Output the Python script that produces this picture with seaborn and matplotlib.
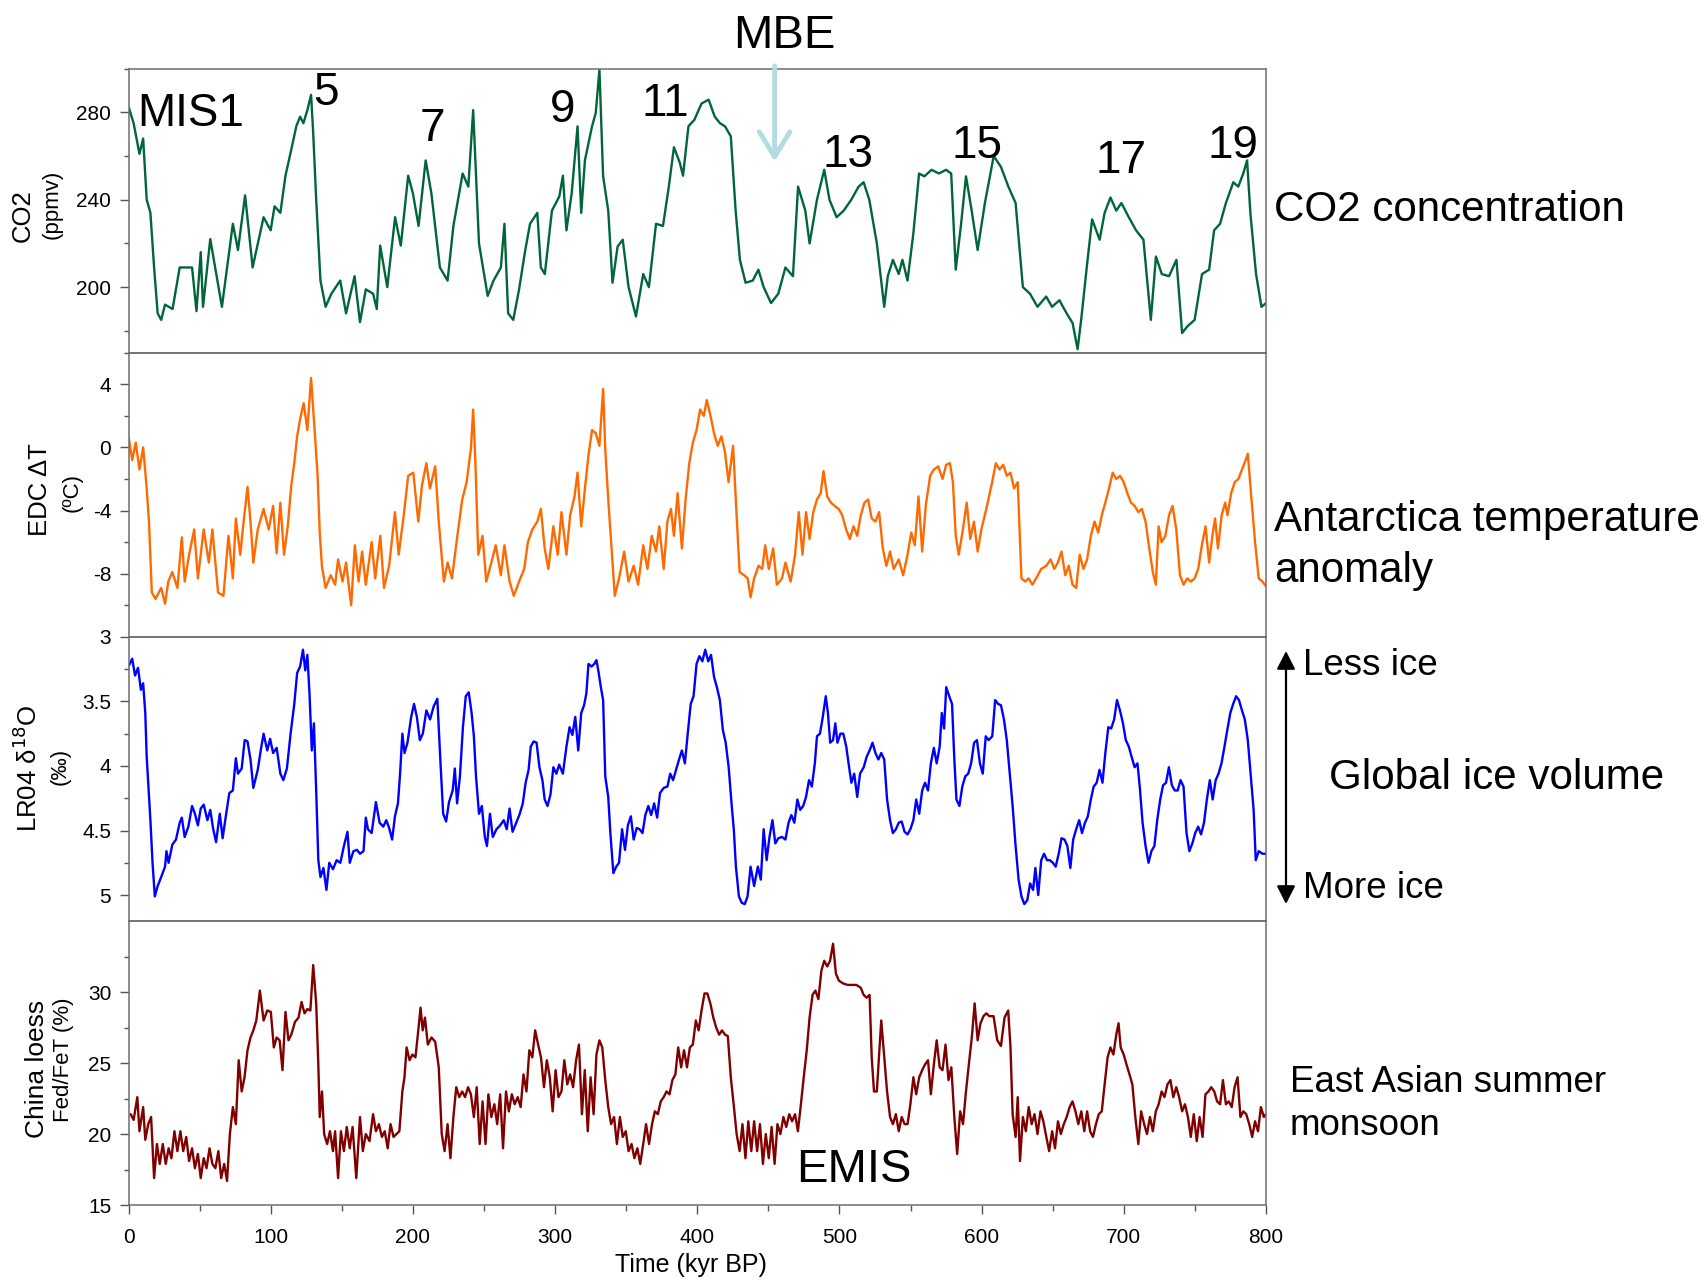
import numpy as np
import pandas as pd
import matplotlib
matplotlib.use("Agg")
import matplotlib.pyplot as plt
import seaborn as sns
from matplotlib.ticker import FixedLocator, FuncFormatter
from matplotlib.patches import FancyArrowPatch

sns.set_theme(style="white")
plt.rcParams['font.family'] = ['Liberation Sans', 'DejaVu Sans']
plt.rcParams['text.color'] = 'black'
plt.rcParams['xtick.color'] = 'black'
plt.rcParams['ytick.color'] = 'black'
plt.rcParams['axes.labelcolor'] = 'black'

# ---------------- data (kyr BP) ----------------
co2_age = [0, 3.6, 7.7, 10.3, 12.8, 15.4, 18, 20.5, 23, 25.7, 31, 36, 44.7, 47.8, 50.8, 52.4, 57.5, 65.7, 73.4, 77,
           82, 87.3, 95, 100, 102.7, 106.8, 110.4, 114.5, 118, 120.7, 123, 125.8, 128.4, 129.9, 132, 135, 138.6, 142.7,
           148.9, 153, 159, 162.8, 166.9, 172, 174.6, 177, 182, 187.5, 191.5, 196.7, 200, 204, 209, 213, 219, 224.4,
           228.5, 232.6, 235, 239, 242.4, 246.5, 252.6, 256.7, 261.9, 264.4, 267, 270.6, 274.7, 278.8, 282.4, 287.5,
           290, 292.8, 297.8, 303, 305.5, 308, 311.7, 315.8, 318.4, 321, 326, 328.6, 331.2, 333.8, 337.4, 340.4, 344,
           347.6, 351.7, 356.9, 362, 366, 371, 375.9, 380, 383.6, 387.7, 390, 393.8, 398, 403, 408, 412.3, 416, 419.5,
           423.6, 427, 430, 434, 439, 443, 446.7, 451.9, 457, 462, 467.3, 470.9, 476, 479, 484.2, 489.3, 493, 498, 503,
           508.3, 513.5, 517, 521, 526.3, 531.5, 534, 537.6, 541.7, 544.3, 547.9, 552, 556, 559.7, 564.8, 570, 575,
           578.6, 581.8, 585.4, 589, 593, 597.2, 602.3, 608.5, 613.6, 618.8, 623.9, 629, 634, 639.3, 645.4, 649.5,
           654.7, 659.8, 664, 667.5, 670, 674, 677.7, 683, 686.5, 690.6, 694.7, 698.3, 703.5, 708.6, 713.8, 719, 722.6,
           726.7, 731.8, 737, 741, 744.6, 749.8, 755, 760, 763.5, 767.7, 771.8, 777, 780.5, 784, 786.7, 789, 793,
           796.8, 800]
co2_ppmv = [282.7, 275, 261, 268, 240, 234, 209, 188, 185, 192, 190, 209, 209, 189, 216, 191, 222, 191, 229, 217,
            242, 209, 232, 226, 237, 234, 251, 263, 273.6, 278, 275, 281, 288, 270.5, 240, 203, 191, 197,
            203, 188, 205, 184, 199, 197, 190, 219, 200, 232, 219, 251, 243, 228, 258, 243, 209, 203,
            228, 243, 252, 246, 281, 220, 196, 203, 209, 229, 188, 185, 199, 216, 229, 234,
            209, 206, 235, 241.5, 251, 226, 243, 273.6, 234, 258, 273.6, 279.7, 299.5, 250.7, 235, 202, 218.6,
            221.7, 200, 186.6, 206, 200, 229, 228, 246, 264, 257, 251, 273.6, 276.6, 284, 285.8, 278, 275, 273.6,
            269, 235, 212.5, 202, 203, 208, 200, 192.7, 197, 209, 205, 246, 235, 220, 240, 253.7, 240, 232, 235,
            240, 246, 248, 240, 220, 191, 205, 212.5, 206, 212.5, 203, 224.7, 252, 250.7, 253.7, 252, 253.7,
            252, 208, 228, 250.7, 235, 217, 238.5, 260, 255, 246, 238.5, 200, 197, 191, 195.7, 191,
            194, 188, 183.5, 171.6, 185, 209.5, 231, 221.7, 234, 241, 235, 238.5, 232, 226, 221.7, 185, 214,
            206, 205, 212.5, 179, 182, 185, 206, 208, 226, 229, 238.5, 248, 246, 252, 258, 234, 206,
            191, 192.7]

edc_age = [0, 2.6, 5.1, 7.7, 10.3, 12.8, 14.4, 16.4, 19, 23, 25.7, 28, 30.8, 34.4, 37.5, 39.5, 42.6, 46.2, 48.8,
           52.9, 56.5, 59, 63, 66.8, 70.3, 73.4, 75.5, 78.6, 80.6, 83.7, 85.8, 87.8, 90.9, 95, 98.6, 101.7, 104.2,
           106.8, 109.4, 112, 114.5, 116.6, 118.6, 120.7, 123.2, 125.8, 128.4, 130.9, 133, 134.5, 136, 138.6, 142.2,
           145.3, 147.4, 150.5, 153, 156.6, 159.2, 161.8, 164.3, 166.9, 171, 173.5, 177.1, 179.7, 183.3, 187.4, 190,
           193.6, 196.7, 200.3, 203.8, 206.4, 209.5, 212, 215.7, 218.2, 221.8, 224.4, 227.5, 231, 234.7, 237.8,
           240.8, 242.4, 243.9, 246, 249, 251.6, 255.2, 258.3, 261.9, 264.4, 268, 271, 274.7, 278.3, 280.9, 284,
           287.5, 290, 292.7, 295.3, 298.8, 301.9, 304.5, 308, 310.6, 313.7, 315.8, 318.4, 321, 323.5, 326, 328.6,
           331.2, 333.8, 335.3, 337.4, 340, 342, 345, 348.6, 351.7, 355.3, 358.4, 362, 365, 368, 371, 373.3, 376.4,
           379, 381.5, 383.6, 386.2, 389.2, 391.8, 394.4, 396.9, 399.5, 402, 404.6, 406.7, 409.3, 411.8, 414.4, 417,
           419.5, 422, 425.2, 427.8, 429.8, 433, 435.5, 437.5, 440, 443.1, 445.7, 447.8, 450.3, 453.4, 456, 459.6,
           462, 465.7, 468.8, 471.4, 474, 476.5, 479, 481.6, 484.2, 486.8, 488.8, 491.4, 494, 496.5, 499.5, 502,
           504.7, 507.3, 509.9, 512.5, 515, 517.6, 520.2, 522.7, 525.3, 527.9, 530.5, 533, 535.6, 538.2, 541.7,
           544.8, 547.9, 550.5, 553, 555.6, 558.2, 560.7, 563.8, 566.4, 569.5, 572.5, 575.1, 577.7, 579.8, 581.8,
           583.9, 586.5, 589.5, 592, 594.6, 597.2, 599.8, 603.3, 607.4, 610, 612.6, 615.2, 617.7, 620.3, 622.8,
           625.4, 628, 630.6, 633.1, 635.7, 638.3, 641.9, 645.5, 648.5, 651.1, 653.6, 656.2, 658.8, 661.3, 663.9,
           666.5, 669, 671.6, 674.2, 676.8, 679.4, 682, 684.5, 687, 689.6, 692.2, 694.7, 697.3, 699.9, 702.5, 705,
           707.6, 710.2, 712.7, 715.3, 717.9, 720.4, 722.5, 724.5, 726.6, 729.2, 731.8, 734.3, 736.9, 739.5, 742,
           744.6, 747.2, 749.8, 752.3, 754.9, 757.5, 760, 762.6, 764.2, 766.2, 768.8, 771.3, 772.9, 775.5, 778,
           780.6, 783.1, 785.7, 787.2, 789.8, 792.3, 794.9, 797.5, 800]
edc_temp = [0.7, -0.8, 0.3, -1.4, 0, -2.6, -4.7, -9.2, -9.6, -8.9, -9.9, -8.5, -7.9, -8.9, -5.7, -8.5, -6.8, -5.2, -8.3,
            -5.2, -7.3, -5.2, -9.2, -9.4, -5.6, -8.3, -4.5, -6.8, -5, -2.5, -4.7, -7.3, -5.2, -3.9, -5.2, -3.7, -6.7,
            -3.5, -6.8, -5, -2.4, -1, 0.7, 1.8, 2.8, 1.1, 4.4, 1.1, -1.8, -5.4, -7.5, -8.9, -8.1,
            -8.7, -7.1, -8.5, -7.3, -10, -6.2, -8.5, -6.6, -8.7, -6, -8.3, -5.6, -8.9, -7.5, -4.1, -6.8,
            -4.3, -1.8, -1.6, -4.7, -2.4, -1, -2.6, -1.2, -4.7, -8.5, -7.3, -8.3, -5.8, -3.3, -2.2,
            -0.1, 2.4, -0.8, -6.8, -5.6, -8.5, -7.3, -6.2, -8.1, -6.2, -8.5, -9.4, -8.5, -7.7, -6, -5.2,
            -4.7, -3.9, -6.4, -7.7, -5, -6.8, -4.1, -6.8, -4.3, -3.1, -1.6, -5, -2.6, -0.5, 1.1, 0.9,
            0.1, 3.7, -0.1, -3.3, -6.8, -9.4, -8.3, -6.6, -8.5, -7.5, -8.7, -6.2, -7.7, -5.6, -6.6, -5, -7.7,
            -4.7, -3.9, -5.6, -2.9, -6.4, -3.3, -1, 0.3, 1.1, 2.4, 2, 3, 2, 0.9, 0.1, 0.7,
            -0.3, -2.2, 0.1, -4.5, -7.9, -8.1, -8.3, -9.5, -8.3, -7.5, -7.7, -6.2, -7.7, -6.4, -8.7, -8.3,
            -7.3, -8.5, -6.8, -4.1, -6.8, -4.1, -5.8, -4.1, -3.3, -2.9, -1.5, -3.1, -3.5, -3.7, -3.9, -4.3,
            -5.2, -5.8, -5, -5.6, -4.3, -3.5, -3.3, -4.5, -4.7, -4.1, -6.4, -7.5, -6.6, -7.7, -7.1,
            -8.1, -6.8, -5.4, -6.2, -3.1, -6.6, -3.7, -1.8, -1.4, -1.2, -2, -1.1, -1, -2.2, -5.6,
            -6.8, -5.4, -3.5, -5.8, -4.7, -6.6, -5.2, -3.9, -2.2, -1, -1.4, -1.1, -1.8, -1.6, -2.6,
            -2.2, -8.3, -8.5, -8.3, -8.7, -8.3, -7.7, -7.5, -7.1, -7.7, -7.3, -6.6, -8.1, -7.5, -8.7,
            -8.9, -6.8, -7.7, -7.1, -5.6, -4.7, -5.4, -4.3, -3.5, -2.6, -1.6, -2, -1.8, -2.2, -2.9, -3.5,
            -3.7, -4.1, -3.9, -4.7, -6.4, -7.9, -8.7, -5, -6, -5.6, -4.3, -3.7, -5.2, -8.1, -8.7,
            -8.3, -8.5, -8.3, -7.7, -6.2, -5, -7.3, -5.4, -4.5, -6.4, -4.3, -3.5, -4.3, -2.9, -2.2,
            -2, -1.4, -0.8, -0.4, -3.3, -6, -8.3, -8.5, -8.8]

lr04_age = [0, 2.6, 4.6, 6.7, 8.7, 10.3, 11.8, 12.8, 15.4, 16.9, 18.5, 20.5, 23, 25.7, 26.7, 28.2, 30.8, 33.4, 36,
            37.5, 39.5, 42.1, 44.7, 46.7, 48.8, 50.8, 52.9, 55.5, 57.5, 59.6, 61.6, 64.2, 66.2, 68.3, 70.9, 73.4,
            75.5, 77, 79.6, 81.7, 83.7, 85.8, 87.8, 90.9, 93, 95, 97.6, 99.6, 101.7, 104.2, 106.8, 108.9, 111.4, 114,
            116.6, 118.6, 120.7, 122.7, 124.3, 125.8, 127.3, 128.9, 130.4, 132, 133.5, 135, 137.1, 139.2, 141.2,
            143.8, 146.4, 149, 151.5, 154, 155.6, 158.2, 160.7, 162.8, 165.3, 166.9, 168.4, 171, 174, 176.6, 179.2,
            181.3, 183.3, 185.4, 187.4, 189.5, 191, 192.6, 194.1, 196.2, 198.8, 200.8, 202.8, 204.9, 207, 209.5,
            212.1, 214.6, 217.2, 219.3, 221.3, 223.4, 225.4, 228, 229.5, 231.1, 233.1, 235.2, 237.2, 239.3, 241.3,
            242.9, 244.4, 246.5, 248.5, 250.6, 252.1, 254.2, 256.2, 258.8, 261.4, 263.9, 266, 268, 270.1, 272.7,
            275.2, 277.3, 279.3, 281.4, 282.9, 285, 287, 289, 291.1, 292.7, 294.7, 296.8, 298.8, 300.9, 302.9,
            305.5, 308, 310.2, 312.2, 314.2, 316.3, 318.4, 320.4, 322, 323.5, 325.6, 327.6, 329.1, 330.7, 332.2,
            333.8, 335.3, 337.4, 338.9, 341, 343, 345, 347.1, 349.2, 351.2, 353.3, 355.3, 357.4, 359.4, 361.5,
            363.5, 365.6, 367.6, 369.7, 371.8, 373.8, 376.4, 379, 381, 383, 385.1, 387.2, 389.2, 391.3, 393.3,
            395.4, 397.4, 399.5, 401.5, 403.6, 405.6, 407.7, 409.7, 411.8, 413.8, 415.9, 418, 420, 422.1, 424.1,
            425.7, 427.2, 429.3, 431.3, 433.4, 435.4, 437.5, 440, 442.6, 444.7, 446.7, 448.8, 450.8, 452.9, 454.9,
            457, 459.6, 462, 464.2, 466.2, 468.3, 470.4, 472.4, 474.5, 476.5, 478.6, 480.6, 482.7, 484.2, 486.3,
            488.3, 490.4, 491.9, 493.5, 495.5, 497.1, 498.6, 500.7, 502.7, 504.8, 506.8, 508.4, 510.4, 512.5, 514.5,
            517.1, 519.1, 521.2, 523.3, 525.3, 527.4, 529.4, 531.5, 533.5, 535.6, 537.6, 539.7, 541.7, 543.8, 545.8,
            547.9, 549.9, 552, 554, 556.1, 558.2, 560.2, 562.3, 564.3, 566.4, 568.4, 570.5, 572, 573.6, 575.1,
            577.2, 579.2, 580.8, 582.3, 584.4, 586.4, 588.5, 590.6, 592.6, 594.7, 596.7, 598.8, 600.8, 602.9, 604.9,
            607.5, 609.5, 611.6, 613.6, 615.7, 617.7, 619.8, 621.8, 623.9, 626, 628, 630, 632.1, 634.1, 636.2,
            637.8, 639.8, 641.9, 643.9, 646, 648, 650.1, 652.1, 654.2, 656.2, 658.3, 660.3, 662.4, 664.4, 666.5,
            668.6, 670.6, 672.7, 674.7, 676.8, 678.8, 680.9, 682.9, 685, 687, 689.1, 691.1, 693.2, 695.2, 697.3,
            699.4, 701.4, 703.5, 705.5, 707.6, 709.6, 711.2, 713.2, 715.3, 717.4, 719.4, 721.5, 723.5, 725.6, 727.6,
            729.7, 731.7, 733.8, 735.8, 737.9, 739.9, 742, 744.1, 746.1, 748.2, 750.2, 752.3, 754.3, 756.4, 758.4,
            760.5, 762.5, 764.6, 766.6, 768.7, 770.8, 772.8, 774.9, 776.9, 779, 781, 783.1, 785.1, 787.2, 789.2,
            791.3, 792.8, 794.9, 797.5, 800]
lr04_d18o = [3.23, 3.17, 3.3, 3.24, 3.41, 3.36, 3.59, 3.93, 4.42, 4.75, 5.01, 4.93, 4.86, 4.78, 4.66, 4.75, 4.61, 4.57,
             4.44, 4.4, 4.55, 4.47, 4.31, 4.37, 4.46, 4.33, 4.3, 4.42, 4.34, 4.49, 4.59, 4.37, 4.56, 4.4, 4.21, 4.19,
             3.94, 4.06, 4.02, 3.8, 3.81, 3.95, 4.17, 4.03, 3.88, 3.75, 3.88, 3.79, 3.9, 3.86, 4.06, 4.11, 4.02, 3.75,
             3.52, 3.28, 3.23, 3.1, 3.26, 3.14, 3.44, 3.88, 3.67, 4.19, 4.73, 4.86, 4.79, 4.96, 4.75,
             4.8, 4.73, 4.75, 4.62, 4.51, 4.75, 4.66, 4.65, 4.68, 4.66, 4.4, 4.49, 4.52, 4.28, 4.44, 4.47,
             4.42, 4.48, 4.57, 4.39, 4.29, 4.06, 3.75, 3.9, 3.82, 3.62, 3.52, 3.62, 3.8, 3.75, 3.57,
             3.64, 3.54, 3.48, 3.95, 4.37, 4.43, 4.28, 4.19, 4.02, 4.29, 4.08, 3.7, 3.46, 3.43, 3.59,
             3.77, 4.08, 4.37, 4.31, 4.55, 4.62, 4.37, 4.55, 4.49, 4.46, 4.42, 4.49, 4.33, 4.51, 4.44,
             4.37, 4.29, 4.13, 4.03, 3.85, 3.81, 3.82, 4.01, 4.11, 4.26, 4.31, 4.22, 4.01, 4.06, 3.99,
             4.06, 3.85, 3.7, 3.76, 3.62, 3.88, 3.59, 3.53, 3.44, 3.21, 3.23, 3.21, 3.18, 3.28, 3.39,
             3.49, 4.08, 4.24, 4.52, 4.83, 4.78, 4.75, 4.49, 4.65, 4.46, 4.39, 4.57, 4.48, 4.49, 4.52,
             4.38, 4.31, 4.38, 4.29, 4.4, 4.21, 4.17, 4.16, 4.06, 4.11, 4.03, 3.95, 3.88, 3.98, 3.75,
             3.52, 3.46, 3.21, 3.15, 3.19, 3.1, 3.19, 3.14, 3.31, 3.39, 3.49, 3.72, 3.82, 4.01, 4.29,
             4.49, 4.78, 5.01, 5.06, 5.07, 5.01, 4.78, 4.93, 4.78, 4.88, 4.49, 4.73, 4.55, 4.42, 4.6,
             4.56, 4.55, 4.57, 4.44, 4.38, 4.44, 4.26, 4.34, 4.31, 4.24, 4.11, 4.16, 3.98, 3.77, 3.75,
             3.62, 3.46, 3.59, 3.82, 3.8, 3.67, 3.82, 3.75, 3.75, 3.85, 4.01, 4.13, 4.06, 4.24, 4.06,
             4.01, 3.93, 3.88, 3.82, 3.9, 3.95, 3.9, 3.95, 4.26, 4.42, 4.52, 4.49, 4.44, 4.43, 4.51,
             4.53, 4.49, 4.42, 4.26, 4.37, 4.19, 4.13, 4.19, 3.98, 3.86, 3.98, 3.85, 3.59, 3.71, 3.39,
             3.46, 3.52, 3.95, 4.26, 4.31, 4.16, 4.08, 4.06, 3.98, 3.82, 3.8, 3.98, 4.06, 3.77, 3.8,
             3.77, 3.49, 3.52, 3.53, 3.64, 3.8, 4.06, 4.31, 4.62, 4.88, 5.01, 5.07, 5.04, 4.91, 4.96,
             4.79, 5.0, 4.73, 4.68, 4.73, 4.73, 4.75, 4.78, 4.68, 4.56, 4.57, 4.62, 4.79, 4.57, 4.49,
             4.42, 4.52, 4.44, 4.39, 4.26, 4.16, 4.13, 4.03, 4.13, 3.9, 3.7, 3.71, 3.64, 3.49, 3.57,
             3.67, 3.8, 3.85, 3.93, 4.01, 3.98, 4.16, 4.44, 4.62, 4.75, 4.66, 4.62, 4.42, 4.26, 4.15,
             4.13, 4.01, 4.15, 4.19, 4.19, 4.11, 4.16, 4.52, 4.66, 4.6, 4.52, 4.47, 4.53, 4.44, 4.26,
             4.11, 4.26, 4.11, 4.06, 3.98, 3.85, 3.72, 3.59, 3.52, 3.46, 3.49, 3.57, 3.64, 3.8, 4.06,
             4.34, 4.73, 4.66, 4.68, 4.68]

loess_age = [1.5, 3.6, 6.2, 7.7, 10.3, 11.8, 13.9, 15.9, 18, 20, 22, 24.1, 26.2, 28.2, 30.2, 32.3, 34.4, 36.5, 38.5,
             40.6, 42.6, 44.7, 46.7, 48.8, 50.8, 52.9, 54.9, 57, 59, 61.1, 63.2, 65.2, 67.3, 69.3, 71.3, 73.4, 75.5,
             77.5, 79.6, 81.6, 83.7, 85.8, 87.8, 89.9, 92.4, 95, 97.6, 100.1, 102.2, 104.2, 106.3, 108.3, 110.4,
             112.5, 114.5, 117.1, 119.6, 121.7, 123.8, 125.8, 127.9, 129.9, 132, 133.5, 134.5, 136.1, 137.6, 139.7,
             141.7, 143.8, 145.3, 147.4, 149.4, 151.5, 153.5, 155.6, 157.6, 160.2, 162.8, 164.8, 166.9, 169.5, 172,
             174, 176.1, 178.2, 180.2, 182.3, 184.3, 186.4, 188.4, 190.5, 192.6, 194.1, 195.6, 197.7, 199.7, 201.8,
             203.8, 205.4, 206.9, 208.5, 210.5, 213.1, 215.7, 218.2, 220.3, 222.3, 224.4, 226.4, 228.5, 230.5,
             232.6, 234.7, 236.7, 238.8, 240.8, 242.9, 244.9, 247, 249, 251.1, 253.1, 255.2, 257.3, 259.3, 261.4,
             263.4, 265.5, 267.5, 269.6, 271.6, 273.7, 275.8, 277.8, 279.9, 281.9, 284, 286, 288.1, 290.1, 292.2,
             294.2, 296.3, 298.3, 300.4, 302.4, 304.5, 306.5, 308.6, 310.6, 312.7, 314.8, 316.8, 318.9, 320.9, 323,
             325, 327.1, 329.1, 331.2, 333.2, 335.3, 337.4, 339.4, 341.5, 343.5, 345.6, 347.6, 349.7, 351.7, 353.8,
             355.8, 357.9, 359.9, 362, 364, 366.1, 368.2, 370.2, 372.3, 374.3, 376.4, 378.4, 380.5, 382.5, 384.6,
             386.6, 388.7, 390.7, 392.8, 394.8, 396.9, 399, 401, 403, 405.1, 407.1, 409.2, 411.3, 413.3, 415.4,
             417.4, 419.5, 421.5, 423.6, 425.6, 427.7, 429.8, 431.8, 433.9, 435.9, 438, 440, 442.1, 444.1, 446.2,
             448.2, 450.3, 452.3, 454.4, 456.4, 458.5, 460.6, 462.6, 464.7, 466.7, 468.8, 470.8, 472.9, 474.9, 477,
             479, 481.1, 483.1, 485.2, 487.3, 489.3, 491.4, 493.4, 495.5, 497.5, 499.6, 502.7, 505.8, 508.9, 511.9,
             515, 517, 519.1, 521.2, 522.7, 524.3, 526.3, 527.9, 529.4, 531.5, 533.5, 535.6, 537.6, 539.7, 541.7,
             543.8, 545.8, 547.9, 549.9, 552, 554, 556.1, 558.2, 560.2, 562.3, 564.3, 566.4, 568.4, 570.5, 572.5,
             574.6, 576.7, 578.7, 580.8, 582.8, 584.9, 586.9, 589, 591, 593.1, 595.1, 597.2, 599.2, 601.3, 603.3,
             605.4, 608.4, 611, 613.6, 616.1, 618.7, 620.3, 621.8, 623.9, 625.4, 627, 629, 631.1, 633.1, 635.2,
             637.2, 639.3, 641.4, 643.4, 645.5, 647.5, 649.6, 651.6, 653.7, 655.7, 657.8, 659.8, 661.9, 663.9, 666,
             668, 670.1, 672.2, 674.2, 676.3, 678.3, 680.4, 682.4, 684.5, 686.5, 688.6, 690.6, 692.7, 694.7, 696.3,
             697.8, 699.9, 701.9, 704, 706, 708.1, 710.2, 712.2, 714.3, 716.3, 718.4, 720.4, 722.5, 724.5, 726.6,
             728.6, 730.7, 732.8, 734.8, 736.9, 738.9, 741, 743, 745.1, 747.1, 749.2, 751.3, 753.3, 755.4, 757.4,
             759.5, 761.5, 763.6, 765.6, 767.7, 769.7, 771.8, 773.8, 775.9, 777.9, 780, 782, 784.1, 786.1, 788.2,
             790.3, 792.3, 794.4, 796.4, 798.5, 800]
loess_fed = [21.4, 21, 22.6, 20.2, 21.9, 19.6, 20.7, 21.2, 16.9, 19.3, 17.9, 19.3, 17.9, 19, 18.3, 20.2, 18.8, 20.2, 18.8,
             19.8, 18.1, 19, 17.6, 18.6, 16.9, 18.3, 17.6, 19, 17.9, 17.6, 18.8, 16.9, 17.9, 16.7, 20, 21.9, 20.7,
             25.2, 23, 24, 25.9, 26.8, 27.3, 28, 30.1, 28, 28.7, 28.6, 26.1, 26.8, 26.6, 24.5, 28.6,
             26.6, 27, 27.9, 28.2, 29.3, 28.5, 28.8, 28.7, 31.9, 29.2, 24.9, 21.2, 23, 20, 19.3,
             20.2, 18.8, 20.2, 16.9, 20.2, 18.8, 20.5, 19, 20.5, 16.9, 21.2, 18.8, 20, 19.5, 21.4,
             20.2, 20.7, 19.8, 20.2, 19, 20.7, 19.8, 20, 20.2, 23, 24, 26.1, 25.2, 25.6, 25.4,
             27.3, 28.9, 27.3, 28.2, 26.3, 26.8, 26.5, 24.7, 20, 18.8, 20.7, 18.3, 21.2, 23.3,
             22.6, 23, 22.6, 23.3, 22.8, 21.2, 23.3, 19.3, 22.3, 19.3, 22.8, 21.2, 22.1, 20.7, 22.8,
             19, 23, 21.6, 22.8, 22.1, 22.6, 21.9, 24.2, 23, 25.9, 25.4, 27.3, 26.3, 25.4, 23.3,
             25.2, 24, 21.6, 24.5, 22.6, 23, 25.2, 23.5, 24.2, 23.3, 25.2, 26.3, 21.4, 24.5, 20.2,
             24, 21.4, 25.6, 26.6, 26.1, 23.8, 21.9, 20.7, 21.2, 19.3, 21.2, 19.8, 20.2, 18.8, 19.3,
             18.3, 19, 17.9, 19.3, 20.7, 19.3, 20.7, 21.6, 21.4, 22.3, 22.6, 23, 22.8, 23.8, 24.2,
             26.1, 24.7, 25.9, 24.7, 26.1, 26.3, 28, 27.3, 28.7, 29.9, 29.9, 29.2, 28.2, 27.5, 27,
             27.3, 27, 26.9, 24, 22.1, 20, 18.8, 20.7, 18.3, 20.9, 18.8, 20.9, 18.8, 20.7, 17.9,
             20, 18.3, 20.5, 17.9, 20.7, 20, 21.2, 20.5, 21.4, 20.9, 21.4, 20.2, 22.1, 24, 25.9,
             28.2, 29.8, 30.1, 29.5, 31.5, 32.2, 31.8, 32.2, 33.4, 31.3, 30.8, 30.6, 30.5, 30.5, 30.5,
             30.3, 29.8, 29.6, 29.8, 25.4, 23, 23, 25.6, 28, 25.4, 23, 21.2, 20.7, 21.4, 20.2,
             21.2, 20.7, 20.7, 22.1, 24, 22.8, 24, 24.5, 24.9, 25.2, 22.8, 24.9, 26.6, 24.7, 24.5,
             26.3, 23.8, 24.7, 21.2, 18.6, 21.6, 20.7, 23, 24.9, 26.8, 29.2, 26.6, 27.8, 28.3, 28.5,
             28.3, 28.3, 26.6, 26.2, 28.2, 28.7, 26.1, 21.4, 19.8, 22.6, 18.1, 21.2, 20.2, 21.9, 20.7,
             21.4, 20, 21.6, 20.9, 19.8, 18.8, 20.2, 19, 20.9, 20, 20.7, 21.2, 21.9, 22.3, 21.6,
             20.7, 21.6, 20.2, 21.6, 20.2, 19.8, 20.7, 21.4, 21.6, 23.5, 25.4, 26.1, 25.6, 27, 27.8,
             26.1, 25.6, 24.9, 24.2, 23.5, 21.2, 19.3, 21.6, 20.7, 20, 21.2, 20.2, 21.6, 22.1, 23,
             22.6, 23.5, 23.8, 22.6, 23.3, 22.6, 21.6, 22.1, 21.2, 19.8, 21.4, 19.5, 21.2, 19.8, 22.8,
             23, 23.3, 23, 22.3, 22.1, 23.8, 22.1, 22.3, 21.9, 23.3, 24, 21.2, 21.6, 21.4, 20.7,
             19.8, 20.9, 20.2, 21.9, 21.2, 21.4]

mis_labels = ["MIS1", "5", "7", "9", "11", "13", "15", "17", "19"]
mis_age = [43.6, 138.6, 214, 305.5, 377.4, 506.3, 596.7, 697.8, 776.9]
mis_base = [273.6, 283.5, 266.7, 275.4, 278.2, 255.0, 259.1, 252.2, 259.1]

# ---------------- figure ----------------
W, H = 1707, 1280
fig = plt.figure(figsize=(W / 100, H / 100), dpi=100)

left = 128.5 / W
width = (1266 - 128.5) / W
tops = [68.6, 352.7, 636.8, 921.0]
ph = 284.1
axes = []
for t in tops:
    ax = fig.add_axes([left, 1 - (t + ph) / H, width, ph / H])
    axes.append(ax)

spine_c = "#6e6e6e"
series = [
    (co2_age, co2_ppmv, "#00663a", (170, 300), [200, 240, 280], [180, 220, 260, 300]),
    (edc_age, edc_temp, "#ff6a00", (-12, 6), [-8, -4, 0, 4], [-10, -6, -2, 2, 6]),
    (lr04_age, lr04_d18o, "#0000ff", (5.2, 3.0), [3, 3.5, 4, 4.5, 5], [3.25, 3.75, 4.25, 4.75]),
    (loess_age, loess_fed, "#800000", (15, 35), [15, 20, 25, 30], [17.5, 22.5, 27.5, 32.5]),
]

for ax, (xa, ya, col, ylim, maj, mino) in zip(axes, series):
    df = pd.DataFrame({"age": xa, "val": ya})
    sns.lineplot(data=df, x="age", y="val", ax=ax, color=col, linewidth=1.7,
                 estimator=None, sort=False)
    ax.set_xlim(0, 800)
    ax.set_ylim(*ylim)
    ax.set_xlabel("")
    ax.set_ylabel("")
    ax.yaxis.set_major_locator(FixedLocator(maj))
    ax.yaxis.set_minor_locator(FixedLocator(mino))
    ax.yaxis.set_major_formatter(FuncFormatter(lambda v, p: f"{v:g}"))
    ax.tick_params(axis="y", which="major", direction="out", length=6.5, width=1,
                   color="#555555", labelcolor="black", labelsize=15, pad=6, left=True)
    ax.tick_params(axis="y", which="minor", direction="out", length=3.8, width=1,
                   color="#555555", left=True)
    for s in ax.spines.values():
        s.set_color(spine_c)
        s.set_linewidth(1.1)
    ax.set_facecolor("none")

for ax in axes[:3]:
    ax.tick_params(axis="x", which="both", bottom=False, labelbottom=False)

axb = axes[3]
axb.xaxis.set_major_locator(FixedLocator(list(range(0, 801, 100))))
axb.xaxis.set_minor_locator(FixedLocator(list(range(50, 800, 100))))
axb.tick_params(axis="x", which="major", direction="out", length=6.5, width=1,
                color="#555555", labelcolor="black", labelsize=15, pad=10, bottom=True)
axb.tick_params(axis="x", which="minor", direction="out", length=4, width=1,
                color="#555555", bottom=True)

# ---------------- annotations ----------------
ax0 = axes[0]
for lab, a, b in zip(mis_labels, mis_age, mis_base):
    ax0.text(a, b, lab, fontsize=33, ha="center", va="baseline", color="black")

ax0.annotate("", xy=(454.4, 257.5), xytext=(454.4, 301.2),
             arrowprops=dict(arrowstyle="->,head_length=0.9,head_width=0.55",
                             color="#b2dce0", lw=3.5, mutation_scale=20,
                             shrinkA=0, shrinkB=0),
             annotation_clip=False)
fig.text(784 / W, 1 - 48 / H, "MBE", fontsize=34, ha="center", va="baseline")

axes[3].text(510.4, 16.6, "EMIS", fontsize=34, ha="center", va="baseline")

# right-side texts
fig.text(1274 / W, 1 - 221 / H, "CO2 concentration", fontsize=30.3, va="baseline")
fig.text(1274 / W, 1 - 531 / H, "Antarctica temperature", fontsize=30.3, va="baseline")
fig.text(1274 / W, 1 - 582 / H, "anomaly", fontsize=30.3, va="baseline")
fig.text(1329 / W, 1 - 789 / H, "Global ice volume", fontsize=30.3, va="baseline")
fig.text(1303 / W, 1 - 675 / H, "Less ice", fontsize=26.5, va="baseline")
fig.text(1303 / W, 1 - 898 / H, "More ice", fontsize=26.5, va="baseline")
fig.text(1290 / W, 1 - 1092 / H, "East Asian summer", fontsize=26.5, va="baseline")
fig.text(1290 / W, 1 - 1135 / H, "monsoon", fontsize=26.5, va="baseline")

arr = FancyArrowPatch((1286 / W, 1 - 651 / H), (1286 / W, 1 - 904 / H),
                      transform=fig.transFigure,
                      arrowstyle="<|-|>,head_length=0.55,head_width=0.28",
                      mutation_scale=20, lw=1.6, color="black",
                      shrinkA=0, shrinkB=0)
fig.add_artist(arr)

# y-axis labels
fig.text(23 / W, 1 - 216 / H, "CO2", fontsize=18.5, rotation=90, ha="center", va="center")
fig.text(52 / W, 1 - 204 / H, "(ppmv)", fontsize=16, rotation=90, ha="center", va="center")
fig.text(40 / W, 1 - 490 / H, "EDC ΔT", fontsize=18.5, rotation=90, ha="center", va="center")
fig.text(72 / W, 1 - 493 / H, "(ºC)", fontsize=16, rotation=90, ha="center", va="center")
fig.text(28 / W, 1 - 768 / H, "LR04 δ$^{18}$O", fontsize=18.5, rotation=90, ha="center", va="center")
fig.text(60 / W, 1 - 766 / H, "(‰)", fontsize=16, rotation=90, ha="center", va="center")
fig.text(37 / W, 1 - 1069 / H, "China loess", fontsize=19, rotation=90, ha="center", va="center")
fig.text(64 / W, 1 - 1060 / H, "Fed/FeT (%)", fontsize=16, rotation=90, ha="center", va="center")

fig.text(691 / W, 1 - 1265 / H, "Time (kyr BP)", fontsize=18, ha="center", va="center")

fig.savefig("out.png", dpi=100, facecolor="white")
